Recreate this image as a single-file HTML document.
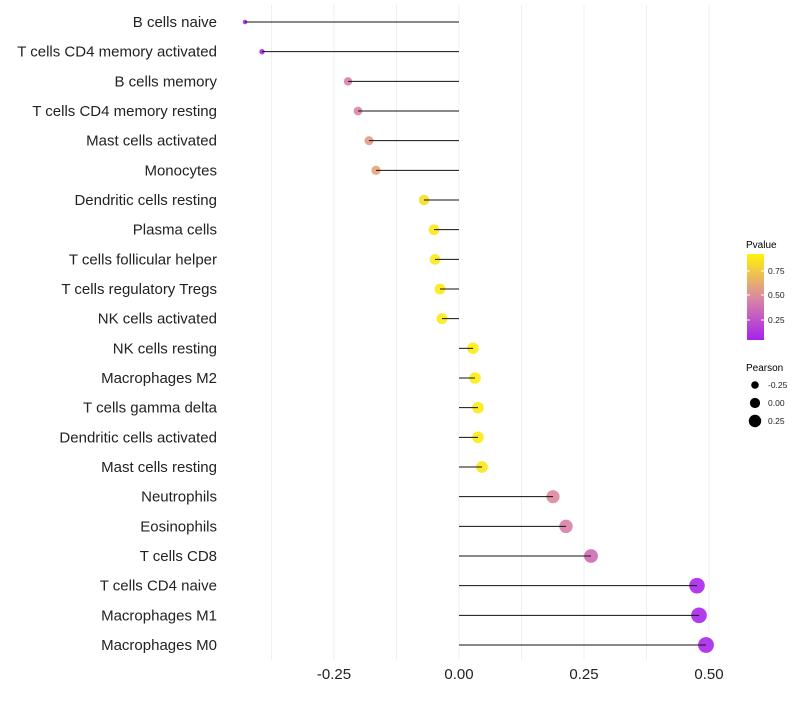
<!DOCTYPE html>
<html><head><meta charset="utf-8"><style>
body{margin:0;background:#fff;font-family:"Liberation Sans",sans-serif;}
</style></head><body>
<svg id="chart" width="800" height="700" xmlns="http://www.w3.org/2000/svg" font-family="Liberation Sans, sans-serif">
<defs>
<linearGradient id="pg" x1="0" y1="1" x2="0" y2="0">
<stop offset="0" stop-color="#a622ee"/>
<stop offset="0.5" stop-color="#db8aa0"/>
<stop offset="1" stop-color="#fff20a"/>
</linearGradient>
</defs>
<g id="grid"></g>
<g id="marks"></g>
<g id="ylabels"></g>
<g id="xlabels"></g>
<g>
<text x="746" y="248" font-size="10">Pvalue</text>
<rect x="747" y="254" width="17" height="86" fill="url(#pg)"/>
<line x1="747" y1="271" x2="750" y2="271" stroke="#fff"/><line x1="761" y1="271" x2="764" y2="271" stroke="#fff"/>
<line x1="747" y1="295" x2="750" y2="295" stroke="#fff"/><line x1="761" y1="295" x2="764" y2="295" stroke="#fff"/>
<line x1="747" y1="320" x2="750" y2="320" stroke="#fff"/><line x1="761" y1="320" x2="764" y2="320" stroke="#fff"/>
<text x="768" y="274" font-size="8.5" fill="#222">0.75</text>
<text x="768" y="298" font-size="8.5" fill="#222">0.50</text>
<text x="768" y="323" font-size="8.5" fill="#222">0.25</text>
</g>
<g>
<text x="746" y="371" font-size="10">Pearson</text>
<circle cx="755" cy="385" r="3.8" fill="#000"/>
<circle cx="755" cy="403" r="5.1" fill="#000"/>
<circle cx="755" cy="421" r="6.2" fill="#000"/>
<text x="768" y="388" font-size="8.5" fill="#222">-0.25</text>
<text x="768" y="406" font-size="8.5" fill="#222">0.00</text>
<text x="768" y="424" font-size="8.5" fill="#222">0.25</text>
</g>
</svg>
<script>
const categories=["B cells naive","T cells CD4 memory activated","B cells memory","T cells CD4 memory resting","Mast cells activated","Monocytes","Dendritic cells resting","Plasma cells","T cells follicular helper","T cells regulatory  Tregs ","NK cells activated","NK cells resting","Macrophages M2","T cells gamma delta","Dendritic cells activated","Mast cells resting","Neutrophils","Eosinophils","T cells CD8","T cells CD4 naive","Macrophages M1","Macrophages M0"];
const pearson=[-0.428,-0.394,-0.222,-0.202,-0.18,-0.166,-0.07,-0.05,-0.048,-0.038,-0.034,0.028,0.032,0.038,0.038,0.046,0.188,0.214,0.264,0.476,0.48,0.494];
const pvalue=[0.02,0.04,0.45,0.48,0.58,0.63,0.9,0.95,0.95,0.96,0.96,0.97,0.97,0.96,0.96,0.95,0.5,0.45,0.36,0.02,0.02,0.02];
const xTicks=[-0.25,0,0.25,0.5];
const xTickLabels=["-0.25","0.00","0.25","0.50"];
const NS="http://www.w3.org/2000/svg";
const x=v=>459+v*500;
const y=i=>22+i*((645-22)/(categories.length-1));
const panelTop=5,panelBottom=660;
function mk(t,a,p){const e=document.createElementNS(NS,t);for(const k in a)e.setAttribute(k,a[k]);p.appendChild(e);return e;}
function lerp(a,b,t){return a.map((v,i)=>Math.round(v+(b[i]-v)*t));}
function col(p){const c0=[166,34,238],c1=[219,138,160],c2=[255,242,10];const c=p<0.5?lerp(c0,c1,p/0.5):lerp(c1,c2,(p-0.5)/0.5);return `rgb(${c[0]},${c[1]},${c[2]})`;}
function rad(v){return Math.sqrt(Math.max(3,5+(v+0.43)*62));}
const grid=document.getElementById('grid'),marks=document.getElementById('marks'),yl=document.getElementById('ylabels'),xl=document.getElementById('xlabels');
for(let v=-0.375;v<=0.51;v+=0.125){
 const g=mk('line',{x1:x(v),x2:x(v),y1:panelTop,y2:panelBottom,stroke:'#efefef','stroke-width':1},grid);
 
 
}
xTicks.forEach((t,i)=>{
 const e=mk('text',{x:x(t),y:679,'font-size':15,'text-anchor':'middle',fill:'#222'},xl);e.textContent=xTickLabels[i];
 
 
});
categories.forEach((c,i)=>{
 const t=mk('text',{x:217,y:y(i)+5,'font-size':15,'text-anchor':'end',fill:'#222','xml:space':'preserve'},yl);t.textContent=c;
 
 
 const pt=mk('circle',{cx:x(pearson[i]),cy:y(i),r:rad(pearson[i]),fill:col(pvalue[i]),'fill-opacity':0.9},marks);
 
 
 const ln=mk('line',{x1:x(0),x2:x(pearson[i]),y1:y(i),y2:y(i),stroke:'#111','stroke-width':1},marks);
 
 
});
</script>
</body></html>
